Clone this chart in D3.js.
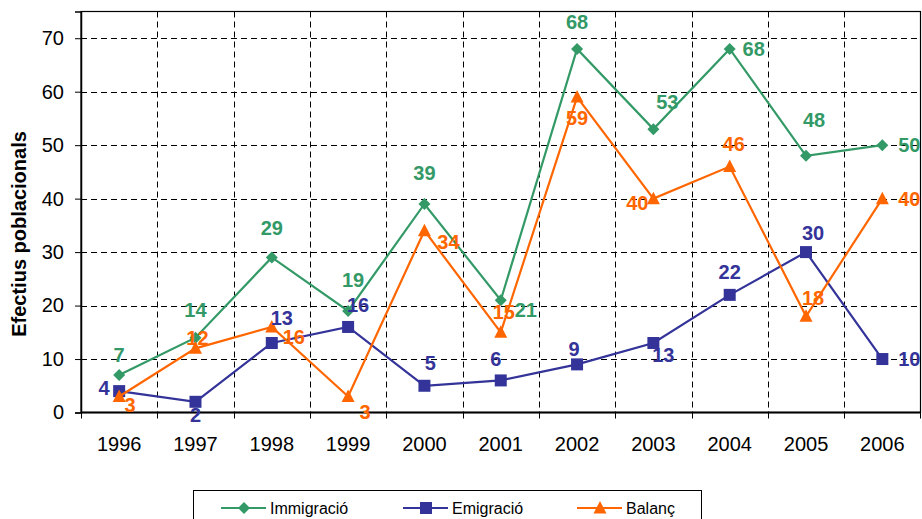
<!DOCTYPE html>
<html>
<head>
<meta charset="utf-8">
<script src="https://cdn.jsdelivr.net/npm/d3@7"></script>
<style>
  html, body { margin: 0; padding: 0; background: #fff; }
  svg { display: block; font-family: "Liberation Sans", Arial, sans-serif; }
</style>
</head>
<body>
<svg id="chart" width="922" height="519"></svg>
<script>
const years = ['1996', '1997', '1998', '1999', '2000', '2001', '2002', '2003', '2004', '2005', '2006'];
const immigracio = [7, 14, 29, 19, 39, 21, 68, 53, 68, 48, 50];
const emigracio = [4, 2, 13, 16, 5, 6, 9, 13, 22, 30, 10];
const balanc = [3, 12, 16, 3, 34, 15, 59, 40, 46, 18, 40];
const yTicks = [0, 10, 20, 30, 40, 50, 60, 70];

// label nudges per point, [dx, dy] from the marker
const immLabelOff = [[0, -20], [0, -28], [0, -30], [5, -31], [0, -31], [25, 10], [0, -27], [14, -27], [24, 0], [8, -36], [27, 0]];
const emiLabelOff = [[-15, -3], [0, 13], [10, -25], [10, -22], [6, -23], [-5, -22], [-3, -16], [10, 12], [0, -23], [7, -19], [27, 0]];
const balLabelOff = [[11, 8], [2, -11], [22, 10], [17, 15], [24, 11], [3, -21], [0, 21], [-16, 4], [4, -23], [7, -18], [27, 0]];

const series = [
  { name: 'Immigració', values: immigracio, color: '#339966', shape: 'diamond', off: immLabelOff },
  { name: 'Emigració', values: emigracio, color: '#333399', shape: 'square', off: emiLabelOff },
  { name: 'Balanç', values: balanc, color: '#FF6600', shape: 'triangle', off: balLabelOff },
];

const M = { top: 11.5, right: 920.5, bottom: 412.5, left: 81 };

const svg = d3.select('#chart');

const x = d3.scaleBand().domain(years).range([M.left, M.right]).padding(0);
const y = d3.scaleLinear().domain([0, 75]).range([M.bottom, M.top]);
const cx = d => x(d) + x.bandwidth() / 2;

function markerPath(shape) {
  if (shape === 'diamond') return 'M0,-6L6,0L0,6L-6,0Z';
  if (shape === 'square') return 'M-6,-6H6V6H-6Z';
  return 'M0,-7L6.5,5.5H-6.5Z';
}

// horizontal gridlines
svg.append('g')
  .selectAll('line')
  .data(yTicks.filter(t => t > 0))
  .join('line')
  .attr('x1', M.left).attr('x2', M.right)
  .attr('y1', d => Math.round(y(d)) + 0.5).attr('y2', d => Math.round(y(d)) + 0.5)
  .attr('stroke', '#000').attr('stroke-dasharray', '6,4').attr('stroke-width', 1);

// vertical gridlines at band edges
svg.append('g')
  .selectAll('line')
  .data(years.slice(1))
  .join('line')
  .attr('x1', d => Math.round(x(d)) + 0.5).attr('x2', d => Math.round(x(d)) + 0.5)
  .attr('y1', M.top).attr('y2', M.bottom)
  .attr('stroke', '#000').attr('stroke-dasharray', '6,4').attr('stroke-width', 1);

// plot frame
svg.append('rect')
  .attr('x', M.left).attr('y', M.top)
  .attr('width', M.right - M.left).attr('height', M.bottom - M.top)
  .attr('fill', 'none').attr('stroke', '#000').attr('stroke-width', 1.2);

// y axis
const yAxis = svg.append('g')
  .attr('transform', `translate(${M.left},0)`)
  .call(d3.axisLeft(y).tickValues(yTicks).tickSize(6).tickPadding(11));
yAxis.select('.domain').attr('stroke-width', 1.5);
yAxis.selectAll('text').attr('font-size', 20).attr('fill', '#000').attr('font-family', 'inherit');

// x axis: ticks at band edges, labels centered
const xAxisG = svg.append('g').attr('transform', `translate(0,${M.bottom})`);
xAxisG.append('line')
  .attr('x1', M.left).attr('x2', M.right)
  .attr('stroke', '#000').attr('stroke-width', 2);
xAxisG.selectAll('.tk')
  .data(years.concat(['end']))
  .join('line')
  .attr('class', 'tk')
  .attr('x1', d => d === 'end' ? M.right : Math.round(x(d)) + 0.5)
  .attr('x2', d => d === 'end' ? M.right : Math.round(x(d)) + 0.5)
  .attr('y1', 0).attr('y2', 6)
  .attr('stroke', '#000');
xAxisG.selectAll('text')
  .data(years)
  .join('text')
  .attr('x', d => cx(d))
  .attr('y', 38)
  .attr('text-anchor', 'middle')
  .attr('font-size', 20)
  .text(d => d);

// y axis title
svg.append('text')
  .attr('transform', `translate(26,${(M.top + M.bottom) / 2 + 22}) rotate(-90)`)
  .attr('text-anchor', 'middle')
  .attr('font-size', 20)
  .attr('font-weight', 'bold')
  .text('Efectius poblacionals');

const line = d3.line().x((d, i) => cx(years[i])).y(d => y(d));

series.forEach(s => {
  svg.append('path')
    .datum(s.values)
    .attr('d', line)
    .attr('fill', 'none')
    .attr('stroke', s.color)
    .attr('stroke-width', 2.2);

  svg.append('g')
    .selectAll('path')
    .data(s.values)
    .join('path')
    .attr('d', markerPath(s.shape))
    .attr('transform', (d, i) => `translate(${cx(years[i])},${y(d)})`)
    .attr('fill', s.color);
});

series.forEach(s => {
  svg.append('g')
    .selectAll('text')
    .data(s.values)
    .join('text')
    .attr('x', (d, i) => cx(years[i]) + s.off[i][0])
    .attr('y', (d, i) => y(d) + s.off[i][1])
    .attr('dy', '0.36em')
    .attr('text-anchor', 'middle')
    .attr('font-size', 20)
    .attr('font-weight', 'bold')
    .attr('fill', s.color)
    .text(d => d);
});

// legend
const legend = svg.append('g');
legend.append('rect')
  .attr('x', 193.5).attr('y', 490.5)
  .attr('width', 508).attr('height', 40)
  .attr('fill', '#fff').attr('stroke', '#000').attr('stroke-width', 1);

const legX = [221, 403, 577];
const item = legend.selectAll('.item')
  .data(series)
  .join('g')
  .attr('class', 'item')
  .attr('transform', (d, i) => `translate(${legX[i]},508)`);
item.append('line')
  .attr('x1', 0).attr('x2', 45)
  .attr('stroke', d => d.color).attr('stroke-width', 2.2);
item.append('path')
  .attr('d', d => markerPath(d.shape))
  .attr('transform', 'translate(23,0)')
  .attr('fill', d => d.color);
item.append('text')
  .attr('x', 49).attr('dy', '0.36em')
  .attr('font-size', 16)
  .text(d => d.name);
</script>
</body>
</html>
